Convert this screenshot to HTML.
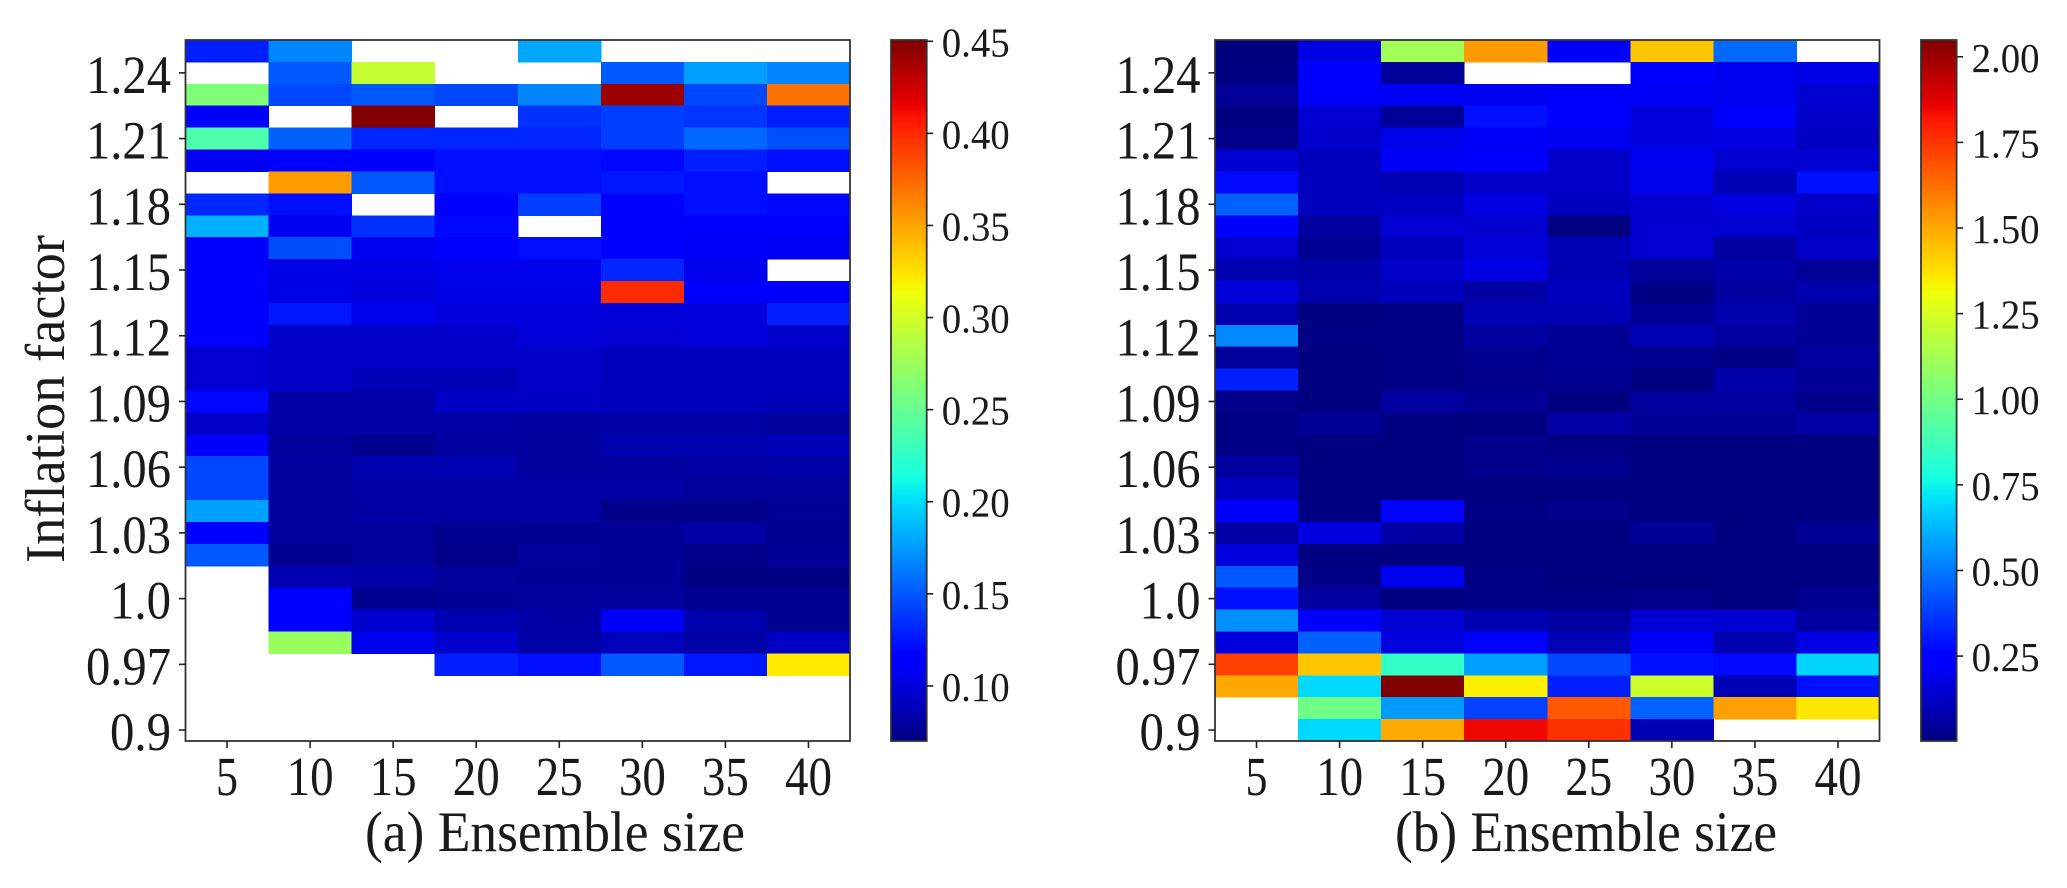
<!DOCTYPE html>
<html>
<head>
<meta charset="utf-8">
<title>Inflation factor heatmaps</title>
<style>
  html, body { margin: 0; padding: 0; background: #fff; }
  svg { display: block; }
  text { font-family: "Liberation Serif", serif; fill: #1a1a1a; }
</style>
</head>
<body>
<svg id="figure" xmlns="http://www.w3.org/2000/svg" width="2067" height="888" viewBox="0 0 2067 888">
  <rect width="2067" height="888" fill="#fff"/>
  <g id="panel-a"></g>
  <g id="panel-b"></g>
  <text transform="translate(64,399) rotate(-90)" text-anchor="middle" font-size="56" textLength="328" lengthAdjust="spacingAndGlyphs">Inflation factor</text>
  <text x="365" y="851" font-size="57" textLength="380" lengthAdjust="spacingAndGlyphs">(a) Ensemble size</text>
  <text x="1395" y="851" font-size="57" textLength="382" lengthAdjust="spacingAndGlyphs">(b) Ensemble size</text>
</svg>
<script>
const ensembleSizes = ["5", "10", "15", "20", "25", "30", "35", "40"];
const inflationTickLabels = ["1.24", "1.21", "1.18", "1.15", "1.12", "1.09", "1.06", "1.03", "1.0", "0.97", "0.9"];
const colorbarTicksA = [0.45, 0.40, 0.35, 0.30, 0.25, 0.20, 0.15, 0.10];
const colorbarTicksB = [2.00, 1.75, 1.50, 1.25, 1.00, 0.75, 0.50, 0.25];
const colorRangeA = [0.0701, 0.4507];
const colorRangeB = [0.002, 2.049];

const valuesA = [
  [.129,.168,null,null,.18,null,null,null],
  [null,.151,.295,null,null,.151,.177,.168],
  [.262,.144,.151,.144,.168,.441,.144,.371],
  [.115,null,.45,null,.136,.141,.138,.129],
  [.239,.154,.132,.132,.132,.141,.156,.147],
  [.108,.115,.115,.123,.123,.12,.129,.123],
  [null,.353,.151,.123,.123,.126,.123,null],
  [.132,.123,null,.115,.141,.115,.123,.12],
  [.184,.108,.136,.12,null,.115,.115,.115],
  [.115,.147,.107,.115,.123,.115,.11,.109],
  [.115,.104,.104,.106,.106,.132,.106,null],
  [.115,.104,.1,.104,.104,.399,.115,.115],
  [.115,.126,.106,.1,.1,.1,.1,.129],
  [.115,.095,.095,.095,.1,.098,.1,.095],
  [.098,.094,.095,.094,.095,.09,.09,.092],
  [.098,.094,.088,.088,.094,.09,.09,.092],
  [.12,.083,.083,.093,.093,.09,.09,.089],
  [.094,.083,.083,.082,.081,.083,.083,.079],
  [.115,.079,.075,.081,.08,.086,.086,.089],
  [.144,.08,.085,.086,.08,.08,.082,.083],
  [.144,.08,.082,.082,.082,.082,.079,.079],
  [.178,.08,.082,.082,.082,.073,.073,.078],
  [.115,.08,.079,.075,.076,.078,.082,.076],
  [.151,.075,.079,.073,.079,.078,.073,.078],
  [null,.086,.083,.079,.078,.078,.071,.072],
  [null,.115,.075,.078,.08,.079,.076,.076],
  [null,.115,.096,.086,.082,.11,.085,.076],
  [null,.274,.107,.096,.083,.09,.083,.093],
  [null,null,null,.129,.123,.151,.126,.322],
  [null,null,null,null,null,null,null,null],
  [null,null,null,null,null,null,null,null],
  [null,null,null,null,null,null,null,null]
];

const valuesB = [
  [.004,.18,1.119,1.529,.24,1.435,.468,null],
  [.004,.24,.05,null,null,.24,.2,.185],
  [.045,.24,.215,.2,.24,.215,.2,.144],
  [.002,.15,.045,.29,.24,.165,.24,.135],
  [.02,.135,.19,.215,.2,.175,.172,.125],
  [.144,.11,.215,.222,.13,.2,.144,.144],
  [.273,.11,.095,.135,.13,.19,.1,.29],
  [.452,.116,.116,.175,.116,.144,.172,.13],
  [.24,.06,.15,.144,.002,.144,.144,.116],
  [.144,.04,.11,.16,.1,.144,.06,.13],
  [.088,.075,.13,.18,.088,.05,.075,.045],
  [.16,.08,.11,.065,.116,.015,.06,.088],
  [.08,.003,.015,.095,.1,.04,.08,.045],
  [.53,.015,.015,.06,.04,.1,.06,.045],
  [.05,.003,.015,.03,.04,.03,.015,.06],
  [.322,.003,.015,.02,.03,.003,.075,.045],
  [.02,.002,.059,.038,.004,.052,.059,.02],
  [.016,.038,.004,.004,.066,.045,.045,.066],
  [.016,.004,.004,.02,.016,.002,.004,.002],
  [.059,.002,.003,.02,.03,.002,.003,.002],
  [.116,.002,.004,.004,.004,.002,.002,.002],
  [.24,.006,.26,.016,.02,.002,.002,.002],
  [.066,.175,.066,.004,.004,.045,.002,.038],
  [.17,.002,.004,.002,.004,.004,.004,.004],
  [.437,.016,.2,.016,.004,.004,.004,.006],
  [.29,.059,.004,.016,.016,.02,.004,.03],
  [.547,.24,.144,.088,.06,.15,.144,.06],
  [.17,.452,.17,.24,.1,.215,.088,.18],
  [1.728,1.435,.84,.578,.401,.29,.273,.683],
  [1.5,.693,2.05,1.346,.322,1.227,.1,.29],
  [null,.998,.565,.386,1.675,.452,1.52,1.363],
  [null,.693,1.5,1.85,1.761,.095,null,null]
];

const NS = "http://www.w3.org/2000/svg";
const plotTop = 40;
const plotBottom = 741;

function make(tag, parent, attrs) {
  const el = document.createElementNS(NS, tag);
  for (const k in attrs) el.setAttribute(k, attrs[k]);
  parent.appendChild(el);
  return el;
}

const jetRed = [[0, 0], [.35, 0], [.66, 1], [.89, 1], [1, .5]];
const jetGreen = [[0, 0], [.125, 0], [.375, 1], [.64, 1], [.91, 0], [1, 0]];
const jetBlue = [[0, .5], [.11, 1], [.34, 1], [.65, 0], [1, 0]];

function segment(stops, t) {
  for (let i = 1; i < stops.length; i++) {
    if (t <= stops[i][0]) {
      const a = stops[i - 1], b = stops[i];
      return a[1] + (b[1] - a[1]) * (t - a[0]) / (b[0] - a[0]);
    }
  }
  return stops[stops.length - 1][1];
}

function jet(t) {
  const c = Math.max(0, Math.min(1, t));
  const r = Math.round(255 * segment(jetRed, c));
  const g = Math.round(255 * segment(jetGreen, c));
  const b = Math.round(255 * segment(jetBlue, c));
  return "rgb(" + r + "," + g + "," + b + ")";
}

function drawPanel(opts) {
  const root = document.getElementById(opts.id);
  const values = opts.values;
  const nRows = values.length;
  const nCols = ensembleSizes.length;
  const xScale = function (c) { return opts.left + (opts.right - opts.left) * c / nCols; };
  const yScale = function (r) { return plotTop + (plotBottom - plotTop) * r / nRows; };
  const normalize = function (v) { return (v - opts.range[0]) / (opts.range[1] - opts.range[0]); };
  const barY = function (v) { return plotBottom - normalize(v) * (plotBottom - plotTop); };

  const cells = make("g", root, { "shape-rendering": "crispEdges" });
  
  
  values.forEach(function (row, r) {
    row.forEach(function (v, c) {
      if (v === null) return;
      const cell = make("rect", cells, {
        x: xScale(c), y: yScale(r),
        width: xScale(c + 1) - xScale(c) + 0.5,
        height: yScale(r + 1) - yScale(r) + 0.5,
        fill: jet(normalize(v))
      });
      
      
    });
  });

  const frame = make("rect", root, {
    x: opts.left, y: plotTop, width: opts.right - opts.left, height: plotBottom - plotTop,
    fill: "none", stroke: "#333", "stroke-width": 1.8
  });
  
  

  inflationTickLabels.forEach(function (label, i) {
    const y = yScale(1 + 3 * i + 0.5);
    const tick = make("line", root, { x1: opts.left - 6.5, x2: opts.left, y1: y, y2: y, stroke: "#222", "stroke-width": 1.6 });
    
    
    const width = label.length === 4 ? 85 : 61;
    const text = make("text", root, {
      x: opts.left - 14.5 - width, y: y + 20, "font-size": 54,
      textLength: width, lengthAdjust: "spacingAndGlyphs"
    });
    text.textContent = label;
    
    
  });

  ensembleSizes.forEach(function (label, c) {
    const x = xScale(c + 0.5);
    const tick = make("line", root, { x1: x, x2: x, y1: plotBottom, y2: plotBottom + 7, stroke: "#222", "stroke-width": 1.6 });
    
    
    const width = label.length === 1 ? 22 : 47;
    const text = make("text", root, {
      x: x - width / 2, y: 795, "font-size": 55,
      textLength: width, lengthAdjust: "spacingAndGlyphs"
    });
    text.textContent = label;
    
    
  });

  const bar = make("g", root, { "shape-rendering": "crispEdges" });
  
  
  const levels = 256;
  for (let i = 0; i < levels; i++) {
    const y0 = plotBottom - (plotBottom - plotTop) * (i + 1) / levels;
    const band = make("rect", bar, {
      x: opts.barLeft, y: y0, width: opts.barRight - opts.barLeft,
      height: (plotBottom - plotTop) / levels + 0.5, fill: jet((i + 0.5) / levels)
    });
    
    
  }
  const barFrame = make("rect", root, {
    x: opts.barLeft, y: plotTop, width: opts.barRight - opts.barLeft, height: plotBottom - plotTop,
    fill: "none", stroke: "#333", "stroke-width": 1.8
  });
  
  

  opts.barTicks.forEach(function (v) {
    const y = barY(v);
    const tick = make("line", root, { x1: opts.barRight, x2: opts.barRight + 6.5, y1: y, y2: y, stroke: "#222", "stroke-width": 1.6 });
    
    
    const text = make("text", root, {
      x: opts.barRight + 15, y: y + 15, "font-size": 41,
      textLength: 68, lengthAdjust: "spacingAndGlyphs"
    });
    text.textContent = v.toFixed(2);
    
    
  });
}

drawPanel({ id: "panel-a", key: "a", values: valuesA, range: colorRangeA, barTicks: colorbarTicksA,
  left: 185.5, right: 850, barLeft: 891, barRight: 926.7 });
drawPanel({ id: "panel-b", key: "b", values: valuesB, range: colorRangeB, barTicks: colorbarTicksB,
  left: 1215, right: 1879.5, barLeft: 1921, barRight: 1956.6 });
</script>
</body>
</html>
